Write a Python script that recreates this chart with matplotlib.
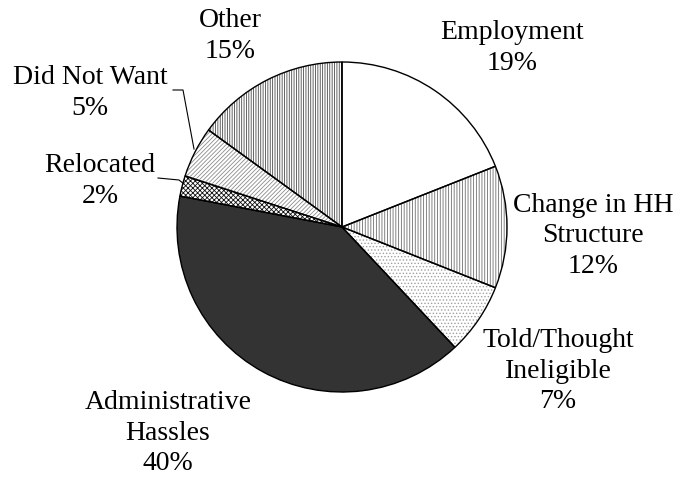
import matplotlib.pyplot as plt

# Reasons for leaving, share of respondents (%)
reasons = ["Employment", "Change in HH\nStructure", "Told/Thought\nIneligible",
           "Administrative\nHassles", "Relocated", "Did Not Want", "Other"]
shares = [19, 12, 7, 40, 2, 5, 15]

# slice styling: face colour, hatch pattern, hatch colour
faces = ["white", "white", "white", "#333333", "white", "white", "white"]
hatches = ["", "|" * 6, "." * 5, "", "x" * 7, "/" * 8, "|" * 7]
hatch_cols = ["white", "#6e6e6e", "#a0a0a0", "#333333", "#111111", "#8c8c8c", "#4a4a4a"]

# label centres in pixels (x, y from top-left)
label_pos = [(512, 48), (593, 236), (558, 371), (168, 433),
             (100, 181), (90, 93), (230, 36)]

W, H = 675, 480
CX, CY, R = 342, 227, 165

plt.rcParams["font.family"] = ["Liberation Serif", "DejaVu Serif"]
plt.rcParams["hatch.linewidth"] = 0.6

fig = plt.figure(figsize=(W / 100, H / 100), dpi=100)
ax = fig.add_axes([0, 0, 1, 1])


def px(x, y):
    return (x - CX) / R, (CY - y) / R


# fill + hatch pass
wedges, _ = ax.pie(shares, startangle=90, counterclock=False, radius=1,
                   wedgeprops=dict(linewidth=0))
for w, fc, h, hc in zip(wedges, faces, hatches, hatch_cols):
    w.set_facecolor(fc)
    w.set_edgecolor(hc)
    w.set_hatch(h)
    w.set_linewidth(0)

# outline pass
ax.pie(shares, startangle=90, counterclock=False, radius=1,
       colors=["none"] * len(shares),
       wedgeprops=dict(edgecolor="black", linewidth=1.0, fill=False))

ax.set_xlim(-CX / R, (W - CX) / R)
ax.set_ylim((CY - H) / R, CY / R)
ax.set_aspect("equal")
ax.set_axis_off()

# labels with percentages
for name, val, (x, y) in zip(reasons, shares, label_pos):
    fig.text(x / W, 1 - y / H, f"{name}\n{val}%", ha="center", va="center",
             multialignment="center", fontsize=20, linespacing=1.28)

# leader lines for the two small slices
for pts in ([(173, 90), (183, 90), (194, 149)],
            [(158, 178), (179, 180), (184, 184)]):
    xs, ys = zip(*[px(*p) for p in pts])
    ax.plot(xs, ys, color="black", linewidth=0.8)

fig.savefig("out.png", dpi=100)
